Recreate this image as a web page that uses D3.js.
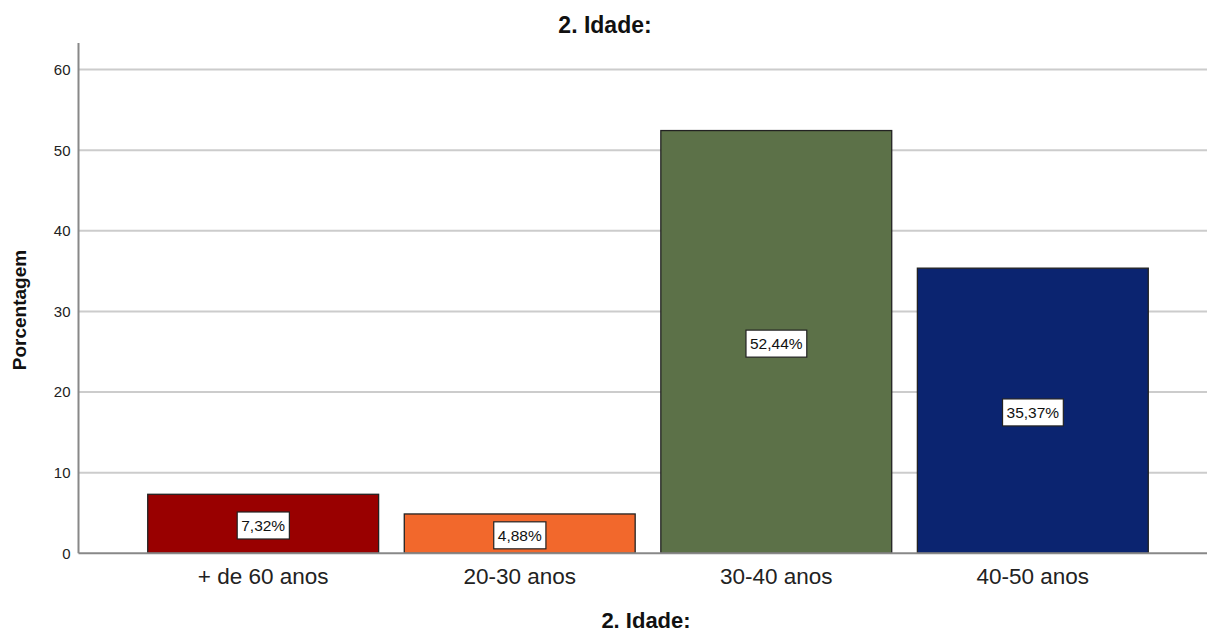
<!DOCTYPE html>
<html>
<head>
<meta charset="utf-8">
<script src="https://cdn.jsdelivr.net/npm/d3@7"></script>
<style>
  html, body { margin: 0; padding: 0; background: #fff; }
  svg { display: block; font-family: "Liberation Sans", Arial, sans-serif; }
</style>
</head>
<body>
<svg id="chart" width="1207" height="632"></svg>
<script>
// Age distribution (percent of respondents)
const categories = ["+ de 60 anos", "20-30 anos", "30-40 anos", "40-50 anos"];
const percentages = [7.32, 4.88, 52.44, 35.37];
const barColors = ["#990000", "#f2682c", "#5c7148", "#0b2470"];
const yTicks = [0, 10, 20, 30, 40, 50, 60];
const chartTitle = "2. Idade:";
const xTitle = "2. Idade:";
const yTitle = "Porcentagem";

const svg = d3.select("#chart");
const plot = { left: 78.5, right: 1207, top: 43, bottom: 553.3 };

const y = d3.scaleLinear().domain([0, 63.3]).range([plot.bottom, plot.top]);
const x = d3.scaleBand()
  .domain(categories)
  .range([134.9, 1161.1])
  .paddingInner(0.1)
  .paddingOuter(0.05);

// gridlines
svg.append("g")
  .selectAll("line")
  .data(yTicks.filter(d => d > 0))
  .join("line")
  .attr("x1", plot.left).attr("x2", plot.right)
  .attr("y1", d => y(d)).attr("y2", d => y(d))
  .attr("stroke", "#cccccc").attr("stroke-width", 2);

// y axis
const yAxis = svg.append("g")
  .attr("transform", `translate(${plot.left},0)`)
  .call(d3.axisLeft(y).tickValues(yTicks).tickSize(0).tickPadding(8));
yAxis.select(".domain").remove();
yAxis.selectAll(".tick text")
  .attr("font-size", 15).attr("fill", "#222")
  .attr("font-family", "'Liberation Sans', Arial, sans-serif");
svg.append("line")
  .attr("x1", plot.left).attr("x2", plot.left)
  .attr("y1", plot.top).attr("y2", plot.bottom)
  .attr("stroke", "#888").attr("stroke-width", 2);

// bars
svg.append("g")
  .selectAll("rect")
  .data(categories)
  .join("rect")
  .attr("x", d => x(d))
  .attr("y", (d, i) => y(percentages[i]))
  .attr("width", x.bandwidth())
  .attr("height", (d, i) => y(0) - y(percentages[i]))
  .attr("fill", (d, i) => barColors[i])
  .attr("stroke", "#222").attr("stroke-width", 1.3);

// x axis baseline
svg.append("line")
  .attr("x1", plot.left).attr("x2", plot.right)
  .attr("y1", plot.bottom).attr("y2", plot.bottom)
  .attr("stroke", "#888").attr("stroke-width", 2);

// category labels
const xAxis = svg.append("g")
  .attr("transform", `translate(0,${plot.bottom})`)
  .call(d3.axisBottom(x).tickSize(0).tickPadding(0));
xAxis.select(".domain").remove();
xAxis.selectAll(".tick text")
  .attr("dy", null)
  .attr("y", 31)
  .attr("font-size", 22.5).attr("fill", "#222")
  .attr("font-family", "'Liberation Sans', Arial, sans-serif");

// value labels in boxes
const fmt = v => v.toFixed(2).replace(".", ",") + "%";
const labels = svg.append("g")
  .selectAll("g")
  .data(categories)
  .join("g")
  .attr("transform", (d, i) =>
    `translate(${x(d) + x.bandwidth() / 2},${(y(0) + y(percentages[i])) / 2 + 1.7})`);
labels.append("text")
  .attr("text-anchor", "middle")
  .attr("dy", "0.36em")
  .attr("font-size", 15.5).attr("fill", "#111")
  .text((d, i) => fmt(percentages[i]));
labels.each(function () {
  const g = d3.select(this);
  const bb = g.select("text").node().getBBox();
  g.insert("rect", "text")
    .attr("x", bb.x - 4).attr("y", -13.5)
    .attr("width", bb.width + 8).attr("height", 27)
    .attr("fill", "#fff").attr("stroke", "#222").attr("stroke-width", 1.2);
});

// titles
svg.append("text")
  .attr("x", 605).attr("y", 33)
  .attr("text-anchor", "middle")
  .attr("font-size", 23).attr("font-weight", "bold").attr("fill", "#111")
  .text(chartTitle);
svg.append("text")
  .attr("x", 646).attr("y", 628)
  .attr("text-anchor", "middle")
  .attr("font-size", 22).attr("font-weight", "bold").attr("fill", "#111")
  .text(xTitle);
svg.append("text")
  .attr("transform", "translate(26,310) rotate(-90)")
  .attr("text-anchor", "middle")
  .attr("font-size", 19).attr("font-weight", "bold").attr("fill", "#111")
  .text(yTitle);
</script>
</body>
</html>
